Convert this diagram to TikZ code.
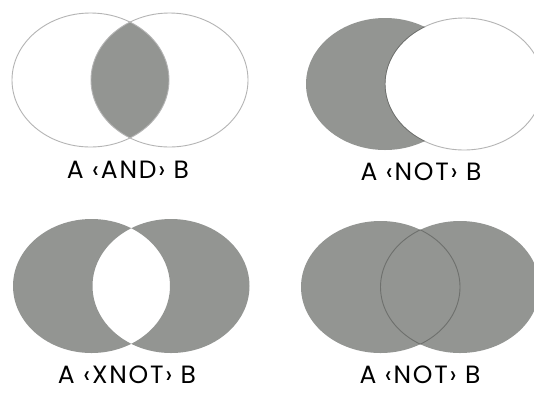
\documentclass[tikz,border=0pt]{standalone}
\usepackage{fontspec}
\setmainfont{Poppins}[LetterSpace=7]
\definecolor{greyfill}{HTML}{939592}
\definecolor{rim}{HTML}{B4B4B4}
\definecolor{darkrim}{HTML}{6E706D}
\tikzset{
  lbl/.style={font=\fontsize{25}{27}\selectfont, text=black, inner sep=0pt,
    text depth=0pt, anchor=base},
  rimline/.style={draw=rim, line width=0.9pt},
}
\begin{document}
\begin{tikzpicture}[x=1pt,y=-1pt]
\useasboundingbox (0,0) rectangle (534,392);
\clip (0,0) rectangle (534,392);
\fill[white] (0,0) rectangle (534,392);
% Panel 1: AND
\begin{scope}
  \clip (90.5,80) ellipse [x radius=78.5, y radius=67];
  \fill[greyfill] (169.5,80) ellipse [x radius=78.5, y radius=67];
\end{scope}
\draw[rimline] (90.5,80) ellipse [x radius=78.5, y radius=67];
\draw[rimline] (169.5,80) ellipse [x radius=78.5, y radius=67];
\node[lbl] (t1) at (128,178) {A ‹AND› B};
% Panel 2: NOT
\fill[greyfill] (385,84) ellipse [x radius=79, y radius=66];
\filldraw[fill=white, draw=rim, line width=0.9pt] (464,84) ellipse [x radius=79, y radius=66];
\begin{scope}
  \clip (385,84) ellipse [x radius=79, y radius=66];
  \draw[darkrim, line width=0.9pt] (464,84) ellipse [x radius=79, y radius=66];
\end{scope}
\node[lbl] (t2) at (421,180) {A ‹NOT› B};
% Panel 3: XNOT
\fill[greyfill, even odd rule] (91.5,286) ellipse [x radius=78.5, y radius=67]
  (171,286) ellipse [x radius=78.5, y radius=67];
\node[lbl] (t3) at (127,383) {A ‹XNOT› B};
% Panel 4: NOT (union)
\fill[greyfill] (380.5,287) ellipse [x radius=79.5, y radius=66];
\fill[greyfill] (460,287) ellipse [x radius=79.5, y radius=66];
\begin{scope}
  \clip (380.5,287) ellipse [x radius=79.5, y radius=66];
  \draw[darkrim, line width=0.9pt] (460,287) ellipse [x radius=79.5, y radius=66];
\end{scope}
\begin{scope}
  \clip (460,287) ellipse [x radius=79.5, y radius=66];
  \draw[darkrim, line width=0.9pt] (380.5,287) ellipse [x radius=79.5, y radius=66];
\end{scope}
\node[lbl] (t4) at (420,383) {A ‹NOT› B};
\end{tikzpicture}
\end{document}
